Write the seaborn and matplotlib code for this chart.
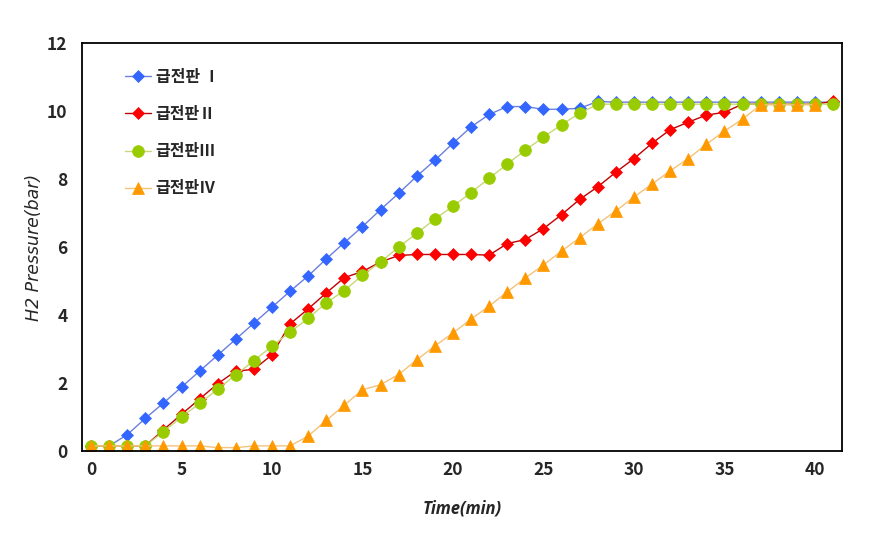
import numpy as np
import pandas as pd
import matplotlib
matplotlib.use("Agg")
import matplotlib.pyplot as plt
import seaborn as sns

# ---- data ----
time_min = list(range(0, 42))
s1 = [0.15, 0.15, 0.48, 0.96, 1.41, 1.88, 2.35, 2.82, 3.29, 3.76, 4.23, 4.70, 5.15, 5.65,
      6.13, 6.60, 7.10, 7.58, 8.08, 8.55, 9.05, 9.53, 9.90, 10.13, 10.13, 10.05, 10.05, 10.08,
      10.28, 10.26, 10.26, 10.26, 10.26, 10.26, 10.26, 10.26, 10.26, 10.26, 10.26, 10.26, 10.26, 10.26]
s2 = [0.15, 0.15, 0.15, 0.15, 0.62, 1.08, 1.53, 1.98, 2.35, 2.40, 2.83, 3.74, 4.18, 4.65,
      5.10, 5.28, 5.56, 5.75, 5.78, 5.78, 5.78, 5.78, 5.76, 6.10, 6.22, 6.54, 6.95, 7.40,
      7.77, 8.20, 8.60, 9.05, 9.45, 9.67, 9.88, 9.96, 10.20, 10.20, 10.20, 10.20, 10.20, 10.28]
s3 = [0.15, 0.15, 0.15, 0.15, 0.57, 1.00, 1.40, 1.82, 2.24, 2.66, 3.08, 3.50, 3.90, 4.36,
      4.72, 5.17, 5.56, 6.00, 6.40, 6.82, 7.20, 7.60, 8.02, 8.44, 8.85, 9.23, 9.60, 9.93,
      10.20, 10.20, 10.20, 10.20, 10.20, 10.20, 10.20, 10.20, 10.20, 10.20, 10.20, 10.20, 10.20, 10.20]
s4 = [0.15, 0.15, 0.15, 0.15, 0.15, 0.15, 0.15, 0.10, 0.10, 0.15, 0.15, 0.15, 0.44, 0.90,
      1.35, 1.80, 1.95, 2.25, 2.68, 3.09, 3.47, 3.88, 4.26, 4.68, 5.09, 5.47, 5.88, 6.27,
      6.68, 7.06, 7.47, 7.85, 8.24, 8.60, 9.02, 9.41, 9.76, 10.18, 10.18, 10.18, 10.18]
labels = ["급전판 Ⅰ", "급전판Ⅱ", "급전판Ⅲ", "급전판Ⅳ"]
x_ticks = [0, 5, 10, 15, 20, 25, 30, 35, 40]
y_ticks = [0, 2, 4, 6, 8, 10, 12]
x_label = "Time(min)"
y_label = "H2 Pressure(bar)"

sns.set_style("white")
plt.rcParams['font.family'] = ['Noto Sans CJK KR', 'DejaVu Sans']

fig = plt.figure(figsize=(8.92, 5.40), dpi=100)
ax = fig.add_axes([0.0919, 0.1648, 0.944 - 0.0919, 0.9204 - 0.1648])

styles = [
    dict(marker="D", mfc="#3366FF", mec="#3366FF", lc="#6B80DD", ms=6.5),
    dict(marker="D", mfc="#FF0000", mec="#FF0000", lc="#C00000", ms=6.5),
    dict(marker="o", mfc="#99CC00", mec="#99CC00", lc="#C9D777", ms=8.5),
    dict(marker="^", mfc="#FF9900", mec="#FF9900", lc="#F5C27A", ms=8.5),
]
series = [s1, s2, s3, s4]
for vals, lab, st in zip(series, labels, styles):
    df = pd.DataFrame({"t": time_min[:len(vals)], "p": vals})
    sns.lineplot(data=df, x="t", y="p", ax=ax, color=st["lc"], linewidth=1.0,
                 marker=st["marker"], markersize=st["ms"], markerfacecolor=st["mfc"],
                 markeredgecolor=st["mec"], markeredgewidth=0.5, label=lab)

ax.set_xlim(-0.5, 41.5)
ax.set_ylim(0, 12)
ax.set_xticks(x_ticks)
ax.set_xticklabels([str(v) for v in x_ticks], fontsize=12.5, fontweight="bold")
ax.set_xticks(np.arange(-0.5, 42, 1.0), minor=True)
ax.tick_params(axis="x", which="major", length=0, pad=7)
ax.tick_params(axis="x", which="minor", direction="in", length=5, width=1, color="black")
ax.set_yticks(y_ticks)
ax.set_yticklabels([str(v) for v in y_ticks], fontsize=12.5, fontweight="bold")
ax.tick_params(axis="y", which="major", direction="inout", length=7, width=1, color="black", pad=7)
for sp in ax.spines.values():
    sp.set_visible(True)
    sp.set_color("black")
    sp.set_linewidth(1.3)

ax.set_xlabel(x_label, fontsize=12, fontstyle="italic", fontweight="bold",
              family=["Open Sans", "DejaVu Sans"], labelpad=15)
ax.set_ylabel(y_label, fontsize=12.5, fontstyle="italic", fontweight="normal",
              family=["DejaVu Sans"], labelpad=3)

leg = ax.legend(loc="upper left", bbox_to_anchor=(0.057, 0.937), frameon=False,
                prop=dict(family=["Noto Sans CJK KR", "DejaVu Sans"], weight="bold", size=11.5),
                labelspacing=1.33, handlelength=1.6, handletextpad=0.3,
                borderpad=0, borderaxespad=0)

fig.savefig("out.png", dpi=100, facecolor="white")
